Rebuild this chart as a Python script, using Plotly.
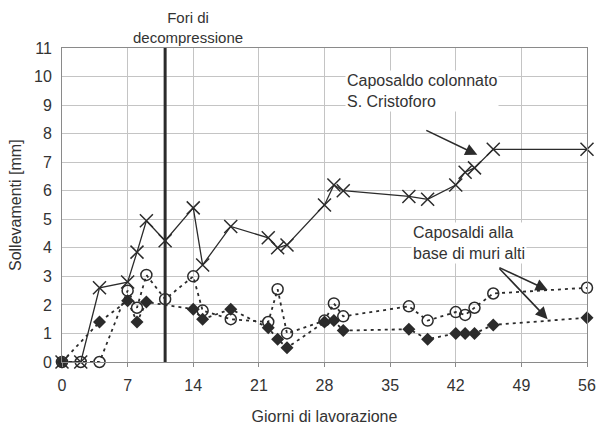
import plotly.graph_objects as go

# Working days at which each benchmark was surveyed
days_colonnato = [0, 2, 4, 7, 8, 9, 11, 14, 15, 18, 22, 23, 24, 28, 29, 30, 37, 39, 42, 43, 44, 46, 56]
lift_colonnato = [0, 0, 2.6, 2.8, 3.85, 4.95, 4.25, 5.4, 3.4, 4.75, 4.35, 4.0, 4.1, 5.5, 6.2, 6.0,
                  5.8, 5.7, 6.2, 6.65, 6.8, 7.45, 7.45]

days_muro_a = [0, 2, 4, 7, 8, 9, 11, 14, 15, 18, 22, 23, 24, 28, 29, 30, 37, 39, 42, 43, 44, 46, 56]
lift_muro_a = [0, 0, 0, 2.5, 1.9, 3.05, 2.2, 3.0, 1.8, 1.5, 1.4, 2.55, 1.0, 1.45, 2.05, 1.6,
               1.95, 1.45, 1.75, 1.65, 1.9, 2.4, 2.6]

days_muro_b = [0, 4, 7, 8, 9, 14, 15, 18, 22, 23, 24, 28, 29, 30, 37, 39, 42, 43, 44, 46, 56]
lift_muro_b = [0, 1.4, 2.15, 1.4, 2.1, 1.85, 1.5, 1.85, 1.2, 0.8, 0.5, 1.4, 1.45, 1.1,
               1.15, 0.8, 1.0, 1.0, 1.0, 1.3, 1.55]

x_ticks = [0, 7, 14, 21, 28, 35, 42, 49, 56]
y_ticks = list(range(0, 12))
DECOMPRESSION_DAY = 11

INK = "#2b2b2b"
FONT = "Liberation Sans, Arial, sans-serif"
DOTTED = "3px,4px"

fig = go.Figure()

fig.add_trace(go.Scatter(
    x=days_muro_b, y=lift_muro_b, mode="lines+markers",
    line=dict(color=INK, width=1.8, dash=DOTTED),
    marker=dict(symbol="diamond", size=10, color=INK),
    cliponaxis=False, showlegend=False))

fig.add_trace(go.Scatter(
    x=days_muro_a, y=lift_muro_a, mode="lines+markers",
    line=dict(color=INK, width=1.8, dash=DOTTED),
    marker=dict(symbol="circle-open", size=11, color=INK, line=dict(width=1.5, color=INK)),
    cliponaxis=False, showlegend=False))

fig.add_trace(go.Scatter(
    x=days_colonnato, y=lift_colonnato, mode="lines+markers",
    line=dict(color=INK, width=1.3),
    marker=dict(symbol="x-thin", size=13, color=INK, line=dict(width=1.5, color=INK)),
    cliponaxis=False, showlegend=False))

# Decompression holes
fig.add_shape(type="line", xref="x", yref="y", x0=DECOMPRESSION_DAY, x1=DECOMPRESSION_DAY,
              y0=0, y1=11, line=dict(color=INK, width=3), layer="between")

annots = [
    dict(x=13.4, y=1.0, xref="x", yref="paper", yshift=21, text="Fori di<br>decompressione",
         showarrow=False, xanchor="center", yanchor="middle", font=dict(size=15)),
    dict(x=30.2, y=9.49, xref="x", yref="y", text="Caposaldo colonnato<br>S. Cristoforo",
         showarrow=False, xanchor="left", yanchor="middle", align="left", bgcolor="white",
         font=dict(size=16)),
    dict(x=37.2, y=4.18, xref="x", yref="y", text="Caposaldi alla<br>base di muri alti",
         showarrow=False, xanchor="left", yanchor="middle", align="left", bgcolor="white",
         font=dict(size=16)),
    dict(x=44.3, y=7.26, ax=38.7, ay=8.14, xref="x", yref="y", axref="x", ayref="y", text="",
         showarrow=True, arrowhead=2, arrowsize=1.5, arrowwidth=1.6, arrowcolor=INK),
    dict(x=51.8, y=2.52, ax=46.5, ay=3.33, xref="x", yref="y", axref="x", ayref="y", text="",
         showarrow=True, arrowhead=2, arrowsize=1.5, arrowwidth=1.6, arrowcolor=INK),
    dict(x=51.8, y=1.5, ax=46.5, ay=3.33, xref="x", yref="y", axref="x", ayref="y", text="",
         showarrow=True, arrowhead=2, arrowsize=1.5, arrowwidth=1.6, arrowcolor=INK),
    dict(x=0, y=0.5, xref="paper", yref="paper", xshift=-47, text="Sollevamenti [mm]",
         textangle=-90, showarrow=False, xanchor="center", yanchor="middle", font=dict(size=16)),
]
for a in annots:
    fig.add_annotation(**a)

axis_common = dict(showgrid=True, gridcolor="#c4c4c4", gridwidth=1, zeroline=False,
                   showline=True, linecolor="#8a8a8a", linewidth=1, mirror=True,
                   automargin=False, tickfont=dict(size=16, color="#333"))

fig.update_xaxes(range=[0, 56], tickvals=x_ticks, ticks="outside", ticklen=4,
                 tickcolor="#8a8a8a", ticklabelstandoff=5,
                 title=dict(text="Giorni di lavorazione", font=dict(size=16), standoff=17),
                 **axis_common)
fig.update_yaxes(range=[0, 11], tickvals=y_ticks, ticks="", ticklabelstandoff=6,
                 **axis_common)

fig.update_layout(
    width=597, height=425,
    margin=dict(l=62, r=10, t=48, b=63),
    paper_bgcolor="white", plot_bgcolor="white",
    font=dict(family=FONT, color="#333", size=16),
)

fig.write_html("out.html")
